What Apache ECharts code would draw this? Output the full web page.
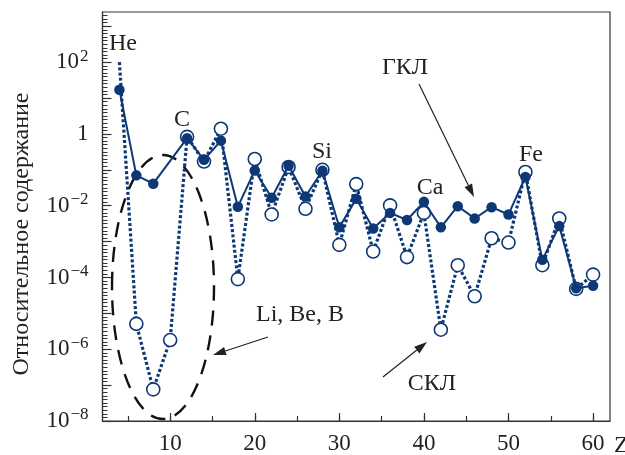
<!DOCTYPE html>
<html><head><meta charset="utf-8">
<script src="https://cdn.jsdelivr.net/npm/echarts@6/dist/echarts.min.js"></script>
<style>html,body{margin:0;padding:0;background:#fff}#c{width:625px;height:455px}</style>
</head><body><div id="c"></div>
<script>
// ГКЛ (galactic cosmic rays) — filled markers, solid line
const gclZ   = [4, 6, 8, 12, 14, 16, 18, 20, 22, 24, 26, 28, 30, 32, 34, 36, 38, 40, 42, 44, 46, 48, 50, 52, 54, 56, 58, 60];
const gclVal = [17, 0.07, 0.041, 0.76, 0.19, 0.65, 0.0093, 0.096, 0.0166, 0.13, 0.018, 0.094, 0.0025, 0.0155, 0.0023, 0.0063, 0.004, 0.0128, 0.0025, 0.0097, 0.0044, 0.0091, 0.0057, 0.063, 0.00031, 0.0027, 0.00005, 0.000059];
// СКЛ (solar cosmic rays) — open markers, dotted line
const sclZ   = [4, 6, 8, 10, 12, 14, 16, 18, 20, 22, 24, 26, 28, 30, 32, 34, 36, 38, 40, 42, 44, 46, 48, 50, 52, 54, 56, 58, 60];
const sclVal = [100, 5.1e-6, 7.6e-8, 1.8e-6, 0.83, 0.17, 1.4, 9e-5, 0.2, 0.0057, 0.12, 0.0082, 0.1, 8.1e-4, 0.04, 5.3e-4, 0.0102, 3.7e-4, 0.0063, 3.5e-6, 2.2e-4, 3e-5, 1.24e-3, 9.4e-4, 0.087, 2.2e-4, 0.0044, 4.8e-5, 1.2e-4];
// axis ticks / labels
const xTickValues  = [5, 10, 15, 20, 25, 30, 35, 40, 45, 50, 55, 60];
const xLabelValues = [10, 20, 30, 40, 50, 60];
const yTickValues  = [1e-8, 1e-7, 1e-6, 1e-5, 1e-4, 1e-3, 1e-2, 1e-1, 1, 10, 100, 1000];
const yLabelValues = [1e-8, 1e-6, 1e-4, 1e-2, 1, 100];

const NAVY = '#0d3875';
const INK = '#222';
const FONT = '"Liberation Serif", "DejaVu Serif", serif';

const minorY = [];
for (let k = -8; k <= 3; k++) for (let i = 1; i < 10; i++) { const e = k + i / 10; if (e < 3.4) minorY.push(Math.pow(10, e)); }

function sup(v) {
  const e = Math.round(Math.log10(v));
  if (e === 0) return '{b|1}';
  return '{b|10}{s|' + (e < 0 ? '\u2212' + (-e) : e) + '}';
}

function arrow(x1, y1, x2, y2) {
  const a = Math.atan2(y2 - y1, x2 - x1), L = 13, W = 4.2;
  const bx = x2 - L * Math.cos(a), by = y2 - L * Math.sin(a);
  const px = -Math.sin(a) * W, py = Math.cos(a) * W;
  return [
    { type: 'line', shape: { x1, y1, x2: bx, y2: by }, style: { stroke: INK, lineWidth: 1.2 }, z: 100 },
    { type: 'polygon', shape: { points: [[x2, y2], [bx + px, by + py], [bx - px, by - py]] }, style: { fill: INK }, z: 100 }
  ];
}
function label(text, x, y, align) {
  return { type: 'text', x, y, z: 100, style: { text, font: '24px ' + FONT, fill: INK, align: align || 'center', verticalAlign: 'middle' } };
}

const chart = echarts.init(document.getElementById('c'), null, { renderer: 'canvas' });
const axisLine = { show: true, lineStyle: { color: '#333', width: 1.2 } };
const yBase = { type: 'log', logBase: 10, min: 1e-8, max: 2500, splitLine: { show: false } };
const xBase = { type: 'value', min: 2, max: 62, splitLine: { show: false } };

chart.setOption({
  animation: false,
  grid: { left: 102.5, right: 15, top: 12, bottom: 32, show: true, borderColor: '#333', borderWidth: 1.2, backgroundColor: 'transparent' },
  xAxis: [
    Object.assign({}, xBase, {
      axisLine,
      axisTick: { show: true, inside: true, length: 5, customValues: xTickValues, lineStyle: { color: '#333', width: 1.2 } },
      axisLabel: { customValues: xLabelValues, margin: 11, fontSize: 23, fontFamily: FONT, color: INK }
    }),
    Object.assign({}, xBase, {
      position: 'bottom', axisLine: { show: false },
      axisTick: { show: true, inside: true, length: 8, customValues: xLabelValues, lineStyle: { color: '#333', width: 1.2 } },
      axisLabel: { show: false }
    })
  ],
  yAxis: [
    Object.assign({}, yBase, {
      axisLine,
      axisTick: { show: true, inside: true, length: 9, customValues: yTickValues, lineStyle: { color: '#333', width: 1.2 } },
      axisLabel: {
        customValues: yLabelValues, margin: 14, formatter: sup,
        rich: {
          b: { fontSize: 23, fontFamily: FONT, color: INK, lineHeight: 24 },
          s: { fontSize: 17, fontFamily: FONT, color: INK, padding: [0, 0, 12, 1], lineHeight: 24 }
        }
      }
    }),
    Object.assign({}, yBase, {
      position: 'left', axisLine: { show: false },
      axisTick: { show: true, inside: true, length: 5, customValues: minorY, lineStyle: { color: '#333', width: 1 } },
      axisLabel: { show: false }
    })
  ],
  series: [
    {
      name: 'СКЛ', type: 'line', xAxisIndex: 0, yAxisIndex: 0, z: 2,
      data: sclZ.map((z, i) => i === 0 ? { value: [z, sclVal[i]], symbol: 'none' } : [z, sclVal[i]]),
      symbol: 'circle', symbolSize: 13, showSymbol: true,
      itemStyle: { color: '#fff', borderColor: NAVY, borderWidth: 1.6 },
      lineStyle: { color: NAVY, width: 3.2, type: [3, 2.2] }
    },
    {
      name: 'ГКЛ', type: 'line', xAxisIndex: 0, yAxisIndex: 0, z: 3,
      data: gclZ.map((z, i) => [z, gclVal[i]]),
      symbol: 'circle', symbolSize: 10.5,
      itemStyle: { color: NAVY, borderColor: NAVY, borderWidth: 0 },
      lineStyle: { color: NAVY, width: 2 }
    }
  ],
  graphic: [
    { type: 'ellipse', shape: { cx: 163, cy: 287, rx: 51, ry: 132 }, style: { fill: 'none', stroke: '#111', lineWidth: 2.4, lineDash: [15, 10] }, z: 1 },
    label('He', 109, 44, 'left'),
    label('C', 182, 120),
    label('Si', 322, 152),
    label('Ca', 430, 188),
    label('Fe', 531, 155),
    label('ГКЛ', 405, 68),
    label('СКЛ', 432, 384),
    label('Li, Be, B', 256, 315, 'left'),
    label('Z', 614, 446, 'left'),
    { type: 'text', x: 22, y: 234, rotation: Math.PI / 2, z: 100, style: { text: 'Относительное содержание', font: '24px ' + FONT, fill: INK, align: 'center', verticalAlign: 'middle' } }
  ].concat(arrow(419, 84, 474, 197), arrow(383, 377, 427, 342), arrow(268, 337, 213, 355))
});
</script></body></html>
